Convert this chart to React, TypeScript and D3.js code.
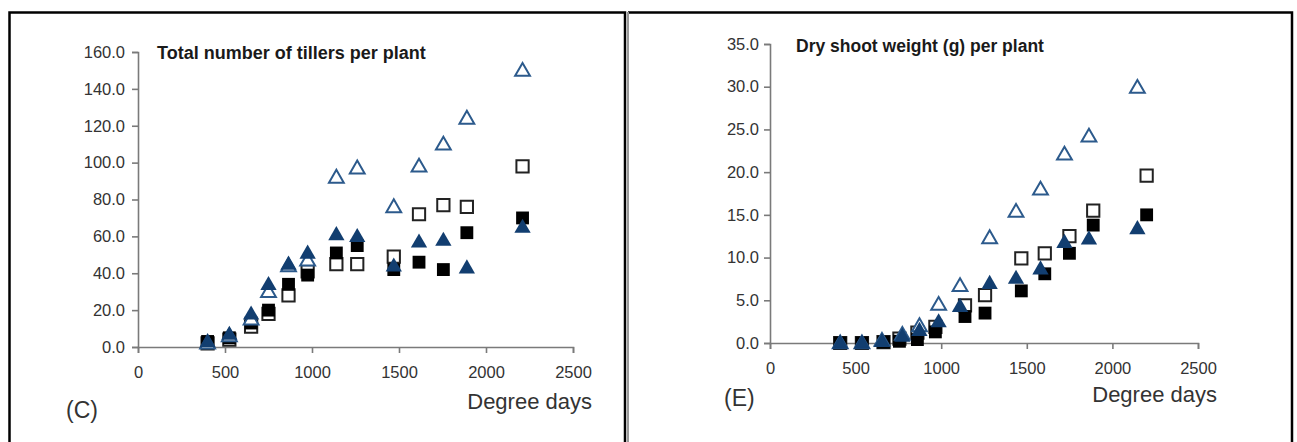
import { useEffect, useRef } from "react";
import * as d3 from "d3";

// degree days (x) and the four treatments for each panel
const tillerDays = [400, 525, 650, 750, 865, 975, 1140, 1260, 1470, 1615, 1755, 1890, 2210];
const tillersOpenTri = [2, 6, 15, 30, 44, 47, 92, 97, 76, 98, 110, 124, 150];
const tillersFilledTri = [3, 7, 18, 34, 45, 51, 61, 60, 44, 57, 58, 43, 65];
const tillersOpenSq = [2, 4, 11, 18, 28, 41, 45, 45, 49, 72, 77, 76, 98];
const tillersFilledSq = [3, 5, 13, 20, 34, 39, 51, 55, 42, 46, 42, 62, 70];

const weightTriDays = [410, 537, 654, 773, 873, 985, 1110, 1283, 1437, 1580, 1720, 1863, 2146];
const weightSqDays = [410, 537, 663, 756, 861, 966, 1139, 1256, 1468, 1605, 1749, 1888, 2200];
const weightOpenTri = [0, 0, 0.3, 1.0, 2.0, 4.5, 6.7, 12.3, 15.4, 18.0, 22.1, 24.2, 29.9];
const weightFilledTri = [0, 0, 0.2, 0.8, 1.5, 2.5, 4.3, 7.0, 7.6, 8.7, 11.8, 12.2, 13.4];
const weightOpenSq = [0, 0, 0.1, 0.5, 1.2, 1.9, 4.4, 5.6, 9.9, 10.5, 12.5, 15.5, 19.6];
const weightFilledSq = [0, 0, 0.1, 0.2, 0.4, 1.3, 3.1, 3.5, 6.1, 8.1, 10.5, 13.8, 15.0];

const dayTicks = [0, 500, 1000, 1500, 2000, 2500];
const tillerTicks = [0, 20, 40, 60, 80, 100, 120, 140, 160];
const weightTicks = [0, 5, 10, 15, 20, 25, 30, 35];

const BLUE = "#123e70";
const FONT = "'Liberation Sans', Arial, sans-serif";

const Panel = ({ svgRef, cfg }) => {
    useEffect(() => {
        const svg = d3.select(svgRef.current);
        const g = svg.append("g");
        const x = d3.scaleLinear().domain([0, 2500]).range([cfg.x0, cfg.x1]);
        const y = d3.scaleLinear().domain([0, cfg.yMax]).range([cfg.y0, cfg.y1]);

        const yAxis = d3.axisLeft(y).tickValues(cfg.yTicks).tickFormat(d3.format(".1f"))
            .tickSizeOuter(0).tickSize(6).tickPadding(cfg.yPad);
        const xAxis = d3.axisBottom(x).tickValues(dayTicks).tickFormat(d3.format("d"))
            .tickSizeOuter(0).tickSize(6).tickPadding(13);

        const ya = g.append("g").attr("transform", `translate(${cfg.x0},0)`).call(yAxis);
        const xa = g.append("g").attr("transform", `translate(0,${cfg.y0})`).call(xAxis);
        [ya, xa].forEach(a => {
            a.select(".domain").attr("stroke", "#7a7a7a").attr("stroke-width", 1.6);
            a.selectAll(".tick line").attr("stroke", "#7a7a7a").attr("stroke-width", 1.6);
            a.selectAll("text").attr("font-family", FONT).attr("font-size", 16.5).attr("fill", "#333");
        });

        const sym = (type, size) => d3.symbol().type(type).size(size)();
        const series = [
            { xs: cfg.sqDays, ys: cfg.openSq, d: sym(d3.symbolSquare, 150), fill: "#fff", stroke: "#222", dy: 0 },
            { xs: cfg.sqDays, ys: cfg.filledSq, d: sym(d3.symbolSquare, 165), fill: "#000", stroke: "none", dy: 0 },
            { xs: cfg.triDays, ys: cfg.openTri, d: sym(d3.symbolTriangle, 95), fill: "#fff", stroke: "#2c5a8c", dy: 1 },
            { xs: cfg.triDays, ys: cfg.filledTri, d: sym(d3.symbolTriangle, 115), fill: BLUE, stroke: "none", dy: 1 },
        ];
        series.forEach(s => {
            g.append("g").selectAll("path")
                .data(s.ys)
                .join("path")
                .attr("d", s.d)
                .attr("transform", (v, i) => `translate(${x(s.xs[i])},${y(v) + s.dy})`)
                .attr("fill", s.fill)
                .attr("stroke", s.stroke)
                .attr("stroke-width", 2);
        });

        g.append("text").attr("x", cfg.titleX).attr("y", cfg.titleY).text(cfg.title)
            .attr("font-family", FONT).attr("font-weight", "bold").attr("font-size", cfg.titleSize).attr("fill", "#1a1a1a");
        g.append("text").attr("x", cfg.x1 + 19).attr("y", cfg.labelY).attr("text-anchor", "end").text("Degree days")
            .attr("font-family", FONT).attr("font-size", 22).attr("fill", "#333");
        g.append("text").attr("x", cfg.tagX).attr("y", cfg.tagY).text(cfg.tag)
            .attr("font-family", FONT).attr("font-size", 23).attr("fill", "#333");

        return () => {
            g.remove();
        };
    }, [cfg]);
    return null;
};

const leftCfg = {
    x0: 138, x1: 573, y0: 347, y1: 52, yMax: 160, yTicks: tillerTicks, yPad: 7,
    triDays: tillerDays, sqDays: tillerDays,
    openTri: tillersOpenTri, filledTri: tillersFilledTri, openSq: tillersOpenSq, filledSq: tillersFilledSq,
    title: "Total number of tillers per plant", titleX: 157, titleY: 59, titleSize: 18,
    labelY: 409, tag: "(C)", tagX: 66, tagY: 418,
};

const rightCfg = {
    x0: 770, x1: 1198, y0: 343, y1: 44, yMax: 35, yTicks: weightTicks, yPad: 5,
    triDays: weightTriDays, sqDays: weightSqDays,
    openTri: weightOpenTri, filledTri: weightFilledTri, openSq: weightOpenSq, filledSq: weightFilledSq,
    title: "Dry shoot weight (g) per plant", titleX: 796, titleY: 52, titleSize: 17.5,
    labelY: 402, tag: "(E)", tagX: 724, tagY: 406,
};

export default function App() {
    const svgRef = useRef(null);
    return (
        <div>
            <svg ref={svgRef} width={1297} height={442}
                style={{ position: "absolute", left: 0, top: 0, background: "#fff" }}>
                {/* panel frames */}
                <path d="M9.5,442 V12.5 H625 V442" fill="none" stroke="#000" strokeWidth={2.5} />
                <path d="M628,12.5 H1292 V442" fill="none" stroke="#000" strokeWidth={2.5} />
                <line x1={628} y1={12} x2={628} y2={442} stroke="#999" strokeWidth={2} />
            </svg>
            <Panel svgRef={svgRef} cfg={leftCfg} />
            <Panel svgRef={svgRef} cfg={rightCfg} />
        </div>
    );
}
